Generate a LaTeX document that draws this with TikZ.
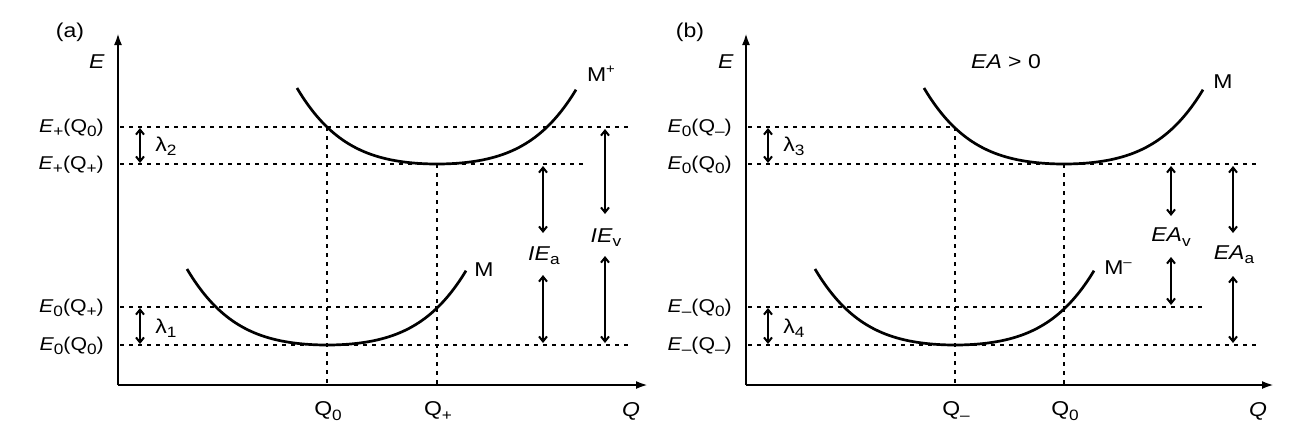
\documentclass[tikz,border=0pt]{standalone}
\usepackage{fontspec}
\setmainfont{Liberation Sans}[FakeStretch=1.15]
\usetikzlibrary{arrows.meta}
\newcommand{\sbx}[1]{\raisebox{-0.4ex}{\fontsize{15}{15}\selectfont #1}}
\newcommand{\spx}[1]{\raisebox{0.75ex}{\fontsize{13}{13}\selectfont #1}}
\tikzset{
  lbl/.style={inner sep=0pt, font=\fontsize{20}{24}\selectfont},
  lft/.style={inner sep=0pt, anchor=east, font=\fontsize{18.5}{22}\selectfont},
  dotl/.style={line width=2pt, dash pattern=on 3.5pt off 5.5pt},
  curve/.style={line width=2.7pt},
  axisline/.style={line width=2.3pt, -{Latex[length=12pt,width=8pt]}},
  dbl/.style={line width=2pt, {Straight Barb[length=5pt,width=8pt]}-{Straight Barb[length=5pt,width=8pt]}}
}
\begin{document}
\begin{tikzpicture}[x=1pt,y={(0,-1pt)}]
\useasboundingbox (0,0) rectangle (1302,424);
% ================= panel (a) =================
\coordinate (oa) at (118,385);
\coordinate (ya) at (118,33);
\coordinate (xa) at (648,385);
\draw[axisline] (oa) -- (ya);
\draw[axisline] (oa) -- (xa);
\node[lbl] (la) at (70,32) {(a)};
\node[lbl] (Ea) at (97,62) {\textit{E}};
% left labels
\node[lft] (a1) at (104,128) {\textit{E}\sbx{+}(Q\sbx{0})};
\node[lft] (a2) at (104,165) {\textit{E}\sbx{+}(Q\sbx{+})};
\node[lft] (a3) at (104,308) {\textit{E}\sbx{0}(Q\sbx{+})};
\node[lft] (a4) at (104,346) {\textit{E}\sbx{0}(Q\sbx{0})};
% dotted levels
\coordinate (a1s) at (120,127); \coordinate (a1e) at (630,127);
\coordinate (a2s) at (120,164); \coordinate (a2e) at (586,164);
\coordinate (a3s) at (120,307); \coordinate (a3e) at (437,307);
\coordinate (a4s) at (120,345); \coordinate (a4e) at (630,345);
\draw[dotl] (a1s) -- (a1e);
\draw[dotl] (a2s) -- (a2e);
\draw[dotl] (a3s) -- (a3e);
\draw[dotl] (a4s) -- (a4e);
\coordinate (aq0t) at (327,127); \coordinate (aq0b) at (327,385);
\coordinate (aqpt) at (437,164); \coordinate (aqpb) at (437,385);
\draw[dotl] (aq0t) -- (aq0b);
\draw[dotl] (aqpt) -- (aqpb);
% curves
\draw[curve] plot[domain=-140:139,samples=80,smooth] ({437+\x},{164-17.35*(\x/100)^2-10.93*(\x/100)^4});
\draw[curve] plot[domain=-140:139,samples=80,smooth] ({327+\x},{345-17.35*(\x/100)^2-10.93*(\x/100)^4});
\node[lbl] (Mpa) at (601,74) {M\spx{+}};
\node[lbl] (Ma) at (484,270) {M};
% lambdas
\coordinate (l2t) at (140,128); \coordinate (l2b) at (140,163);
\coordinate (l1t) at (140,308); \coordinate (l1b) at (140,344);
\draw[dbl] (l2t) -- (l2b);
\draw[dbl] (l1t) -- (l1b);
\node[lbl] (lam2) at (166,146) {λ\sbx{2}};
\node[lbl] (lam1) at (166,328) {λ\sbx{1}};
% IE arrows
\node[lbl] (IEa) at (544,256) {\textit{IE}\sbx{a}};
\node[lbl] (IEv) at (606,238) {\textit{IE}\sbx{v}};
\coordinate (ia1) at (543,166); \coordinate (ia2) at (543,233);
\coordinate (ia3) at (543,275); \coordinate (ia4) at (543,343);
\draw[dbl] (ia1) -- (ia2);
\draw[dbl] (ia3) -- (ia4);
\coordinate (iv1) at (605,129); \coordinate (iv2) at (605,214);
\coordinate (iv3) at (605,256); \coordinate (iv4) at (605,343);
\draw[dbl] (iv1) -- (iv2);
\draw[dbl] (iv3) -- (iv4);
% axis labels
\node[lbl] (aQ0) at (328,411) {Q\sbx{0}};
\node[lbl] (aQp) at (438,411) {Q\sbx{+}};
\node[lbl] (aQ) at (631,411) {\textit{Q}};
% ================= panel (b) =================
\coordinate (ob) at (746,385);
\coordinate (yb) at (746,33);
\coordinate (xb) at (1274,385);
\draw[axisline] (ob) -- (yb);
\draw[axisline] (ob) -- (xb);
\node[lbl] (lb) at (690,32) {(b)};
\node[lbl] (Eb) at (726,62) {\textit{E}};
\node[lbl] (EA0) at (1006,62) {\textit{EA} > 0};
\node[lft] (b1) at (732,128) {\textit{E}\sbx{0}(Q\sbx{–})};
\node[lft] (b2) at (732,165) {\textit{E}\sbx{0}(Q\sbx{0})};
\node[lft] (b3) at (732,308) {\textit{E}\sbx{–}(Q\sbx{0})};
\node[lft] (b4) at (732,346) {\textit{E}\sbx{–}(Q\sbx{–})};
\coordinate (b1s) at (748,127); \coordinate (b1e) at (955,127);
\coordinate (b2s) at (748,164); \coordinate (b2e) at (1258,164);
\coordinate (b3s) at (748,307); \coordinate (b3e) at (1202,307);
\coordinate (b4s) at (748,345); \coordinate (b4e) at (1258,345);
\draw[dotl] (b1s) -- (b1e);
\draw[dotl] (b2s) -- (b2e);
\draw[dotl] (b3s) -- (b3e);
\draw[dotl] (b4s) -- (b4e);
\coordinate (bqmt) at (955,127); \coordinate (bqmb) at (955,385);
\coordinate (bq0t) at (1064,164); \coordinate (bq0b) at (1064,385);
\draw[dotl] (bqmt) -- (bqmb);
\draw[dotl] (bq0t) -- (bq0b);
\draw[curve] plot[domain=-140:139,samples=80,smooth] ({1064+\x},{164-17.35*(\x/100)^2-10.93*(\x/100)^4});
\draw[curve] plot[domain=-140:139,samples=80,smooth] ({955+\x},{345-17.35*(\x/100)^2-10.93*(\x/100)^4});
\node[lbl] (Mb) at (1223,82) {M};
\node[lbl] (Mmb) at (1118,268) {M\spx{–}};
\coordinate (l3t) at (768,128); \coordinate (l3b) at (768,163);
\coordinate (l4t) at (768,308); \coordinate (l4b) at (768,344);
\draw[dbl] (l3t) -- (l3b);
\draw[dbl] (l4t) -- (l4b);
\node[lbl] (lam3) at (794,146) {λ\sbx{3}};
\node[lbl] (lam4) at (794,328) {λ\sbx{4}};
\node[lbl] (EAv) at (1171,237) {\textit{EA}\sbx{v}};
\node[lbl] (EAa) at (1234,255) {\textit{EA}\sbx{a}};
\coordinate (ev1) at (1171,166); \coordinate (ev2) at (1171,216);
\coordinate (ev3) at (1171,257); \coordinate (ev4) at (1171,305);
\draw[dbl] (ev1) -- (ev2);
\draw[dbl] (ev3) -- (ev4);
\coordinate (ea1) at (1233,166); \coordinate (ea2) at (1233,233);
\coordinate (ea3) at (1233,276); \coordinate (ea4) at (1233,343);
\draw[dbl] (ea1) -- (ea2);
\draw[dbl] (ea3) -- (ea4);
\node[lbl] (bQm) at (956,411) {Q\sbx{–}};
\node[lbl] (bQ0) at (1065,411) {Q\sbx{0}};
\node[lbl] (bQ) at (1258,411) {\textit{Q}};
\end{tikzpicture}
\end{document}
